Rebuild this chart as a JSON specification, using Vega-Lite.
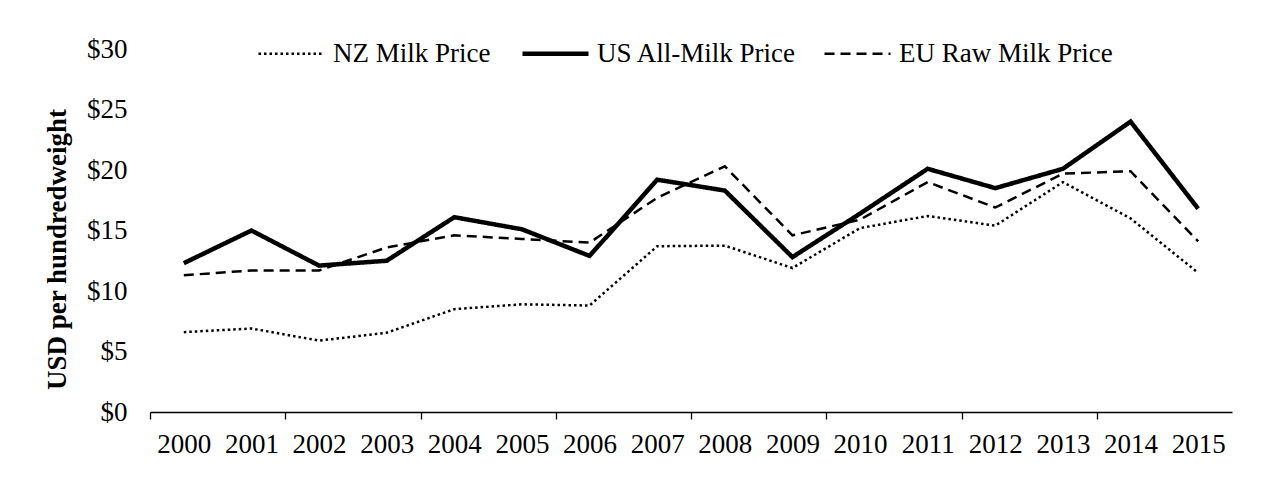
{
  "$schema": "https://vega.github.io/schema/vega-lite/v6.json",
  "width": 1082,
  "height": 363,
  "autosize": {"type": "none"},
  "padding": {"left": 150, "top": 49, "right": 31, "bottom": 72},
  "background": "white",
  "config": {
    "font": "Liberation Serif",
    "view": {"stroke": null},
    "axis": {"grid": false, "labelColor": "black", "titleColor": "black", "labelFont": "Liberation Serif", "titleFont": "Liberation Serif"},
    "legend": {"labelFont": "Liberation Serif"}
  },
  "data": {
    "values": [
      {"year": 2000, "series": "NZ Milk Price", "price": 6.6},
      {"year": 2001, "series": "NZ Milk Price", "price": 6.9},
      {"year": 2002, "series": "NZ Milk Price", "price": 5.9},
      {"year": 2003, "series": "NZ Milk Price", "price": 6.55},
      {"year": 2004, "series": "NZ Milk Price", "price": 8.5},
      {"year": 2005, "series": "NZ Milk Price", "price": 8.9},
      {"year": 2006, "series": "NZ Milk Price", "price": 8.8},
      {"year": 2007, "series": "NZ Milk Price", "price": 13.7},
      {"year": 2008, "series": "NZ Milk Price", "price": 13.75},
      {"year": 2009, "series": "NZ Milk Price", "price": 11.9},
      {"year": 2010, "series": "NZ Milk Price", "price": 15.2},
      {"year": 2011, "series": "NZ Milk Price", "price": 16.2},
      {"year": 2012, "series": "NZ Milk Price", "price": 15.4},
      {"year": 2013, "series": "NZ Milk Price", "price": 19.0},
      {"year": 2014, "series": "NZ Milk Price", "price": 16.0},
      {"year": 2015, "series": "NZ Milk Price", "price": 11.5},
      {"year": 2000, "series": "US All-Milk Price", "price": 12.3},
      {"year": 2001, "series": "US All-Milk Price", "price": 15.0},
      {"year": 2002, "series": "US All-Milk Price", "price": 12.1},
      {"year": 2003, "series": "US All-Milk Price", "price": 12.5},
      {"year": 2004, "series": "US All-Milk Price", "price": 16.1},
      {"year": 2005, "series": "US All-Milk Price", "price": 15.1},
      {"year": 2006, "series": "US All-Milk Price", "price": 12.9},
      {"year": 2007, "series": "US All-Milk Price", "price": 19.2},
      {"year": 2008, "series": "US All-Milk Price", "price": 18.3},
      {"year": 2009, "series": "US All-Milk Price", "price": 12.8},
      {"year": 2010, "series": "US All-Milk Price", "price": 16.4},
      {"year": 2011, "series": "US All-Milk Price", "price": 20.1},
      {"year": 2012, "series": "US All-Milk Price", "price": 18.5},
      {"year": 2013, "series": "US All-Milk Price", "price": 20.1},
      {"year": 2014, "series": "US All-Milk Price", "price": 24.0},
      {"year": 2015, "series": "US All-Milk Price", "price": 16.8},
      {"year": 2000, "series": "EU Raw Milk Price", "price": 11.3},
      {"year": 2001, "series": "EU Raw Milk Price", "price": 11.7},
      {"year": 2002, "series": "EU Raw Milk Price", "price": 11.7},
      {"year": 2003, "series": "EU Raw Milk Price", "price": 13.6},
      {"year": 2004, "series": "EU Raw Milk Price", "price": 14.6},
      {"year": 2005, "series": "EU Raw Milk Price", "price": 14.3},
      {"year": 2006, "series": "EU Raw Milk Price", "price": 14.0},
      {"year": 2007, "series": "EU Raw Milk Price", "price": 17.7},
      {"year": 2008, "series": "EU Raw Milk Price", "price": 20.3},
      {"year": 2009, "series": "EU Raw Milk Price", "price": 14.6},
      {"year": 2010, "series": "EU Raw Milk Price", "price": 15.9},
      {"year": 2011, "series": "EU Raw Milk Price", "price": 19.0},
      {"year": 2012, "series": "EU Raw Milk Price", "price": 16.9},
      {"year": 2013, "series": "EU Raw Milk Price", "price": 19.7},
      {"year": 2014, "series": "EU Raw Milk Price", "price": 19.9},
      {"year": 2015, "series": "EU Raw Milk Price", "price": 14.1}
    ]
  },
  "mark": {"type": "line", "color": "black", "strokeJoin": "miter", "strokeCap": "butt"},
  "encoding": {
    "x": {
      "field": "year",
      "type": "quantitative",
      "scale": {"domain": [1999.5, 2015.5], "nice": false, "zero": false},
      "axis": {
        "title": null,
        "values": [2000, 2001, 2002, 2003, 2004, 2005, 2006, 2007, 2008, 2009, 2010, 2011, 2012, 2013, 2014, 2015, 2016],
        "format": "d",
        "labelOverlap": false,
        "labelBound": false,
        "labelFlush": false,
        "labelFontSize": 27,
        "labelBaseline": "alphabetic",
        "labelPadding": 33,
        "tickOffset": -33.8125,
        "labelOffset": 33.8125,
        "labelOpacity": {"condition": {"test": "datum.value > 2015", "value": 0}, "value": 1},
        "tickSize": 7,
        "tickWidth": 1.3,
        "tickColor": "black",
        "tickOpacity": {"condition": {"test": "datum.value % 2 === 0", "value": 1}, "value": 0},
        "domainColor": "black",
        "domainWidth": 1.3
      }
    },
    "y": {
      "field": "price",
      "type": "quantitative",
      "scale": {"domain": [0, 30], "nice": false},
      "axis": {
        "values": [0, 5, 10, 15, 20, 25, 30],
        "labelExpr": "'$' + datum.value",
        "ticks": false,
        "tickSize": 0,
        "domain": false,
        "labelPadding": 23,
        "labelFontSize": 27,
        "labelBaseline": "middle",
        "title": "USD per hundredweight",
        "titleFontSize": 27,
        "titleFontWeight": "bold",
        "titleAngle": -90,
        "titleX": -85,
        "titleY": 200,
        "titleAlign": "center",
        "titleBaseline": "alphabetic"
      }
    },
    "strokeDash": {
      "field": "series",
      "type": "nominal",
      "scale": {
        "domain": ["NZ Milk Price", "US All-Milk Price", "EU Raw Milk Price"],
        "range": [[2.5, 3], [1, 0], [10, 6]]
      },
      "legend": {
        "title": null,
        "orient": "none",
        "direction": "horizontal",
        "legendX": 128,
        "legendY": -9,
        "padding": 0,
        "symbolType": "stroke",
        "symbolSize": 4356,
        "symbolStrokeColor": "black",
        "symbolStrokeWidth": 2.5,
        "labelFontSize": 27,
        "labelColor": "black",
        "labelOffset": 28,
        "columnPadding": 22,
        "labelLimit": 400,
        "encode": {
          "symbols": {
            "update": {
              "strokeWidth": {"signal": "datum.value === 'US All-Milk Price' ? 4.5 : 2.5"}
            }
          }
        }
      }
    },
    "strokeWidth": {
      "condition": {"test": "datum.series === 'US All-Milk Price'", "value": 4.5},
      "value": 2.5
    }
  }
}
